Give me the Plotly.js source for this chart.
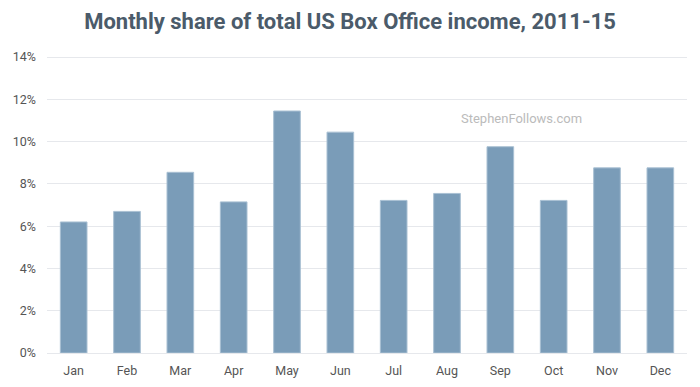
<!DOCTYPE html>
<html>
<head>
<meta charset="utf-8">
<script src="https://cdn.plot.ly/plotly-3.0.1.min.js"></script>
<style>html,body{margin:0;padding:0;background:#fff;}#chart{width:700px;height:387px;}</style>
</head>
<body>
<div id="chart"></div>
<script>
const months = ["Jan","Feb","Mar","Apr","May","Jun","Jul","Aug","Sep","Oct","Nov","Dec"];
const share = [6.2, 6.7, 8.55, 7.15, 11.45, 10.45, 7.22, 7.55, 9.76, 7.22, 8.76, 8.76];
const yTicks = [0, 2, 4, 6, 8, 10, 12, 14];
const yTickLabels = ["0%","2%","4%","6%","8%","10%","12%","14%"];

Plotly.newPlot("chart", [{
  type: "bar",
  x: months,
  y: share,
  width: 0.5,
  marker: {color: "#7a9cb8", line: {color: "#a9c0d3", width: 1}},
  hoverinfo: "none"
}], {
  width: 700, height: 387,
  margin: {l: 47, r: 13, t: 55, b: 34},
  paper_bgcolor: "#fff", plot_bgcolor: "#fff",
  title: {
    text: "<b>Monthly share of total US Box Office income, 2011-15</b>",
    x: 0.5, xanchor: "center", y: 0.945, yanchor: "middle",
    font: {family: "Roboto, sans-serif", size: 22, color: "#4b5b6a"}
  },
  xaxis: {
    showgrid: false, zeroline: false, showline: false, ticks: "",
    ticklabelstandoff: 8,
    tickfont: {family: "Roboto, sans-serif", size: 12.5, color: "#555"},
    fixedrange: true
  },
  yaxis: {
    range: [0, 14.1], tickvals: yTicks, ticktext: yTickLabels,
    showgrid: true, gridcolor: "#e6e8ec", gridwidth: 1,
    zeroline: true, zerolinecolor: "#e6e8ec",
    ticks: "", ticklen: 0, ticklabelstandoff: 10,
    tickfont: {family: "Roboto, sans-serif", size: 12.5, color: "#555"},
    fixedrange: true
  },
  annotations: [{
    text: "StephenFollows.com", xref: "paper", yref: "paper",
    x: 0.741, y: 0.788, xanchor: "center", yanchor: "middle", showarrow: false,
    font: {family: "Roboto, sans-serif", size: 13, color: "#bbbbbb"}
  }],
  showlegend: false,
  bargap: 0.5
}, {displayModeBar: false, staticPlot: true});
</script>
</body>
</html>
